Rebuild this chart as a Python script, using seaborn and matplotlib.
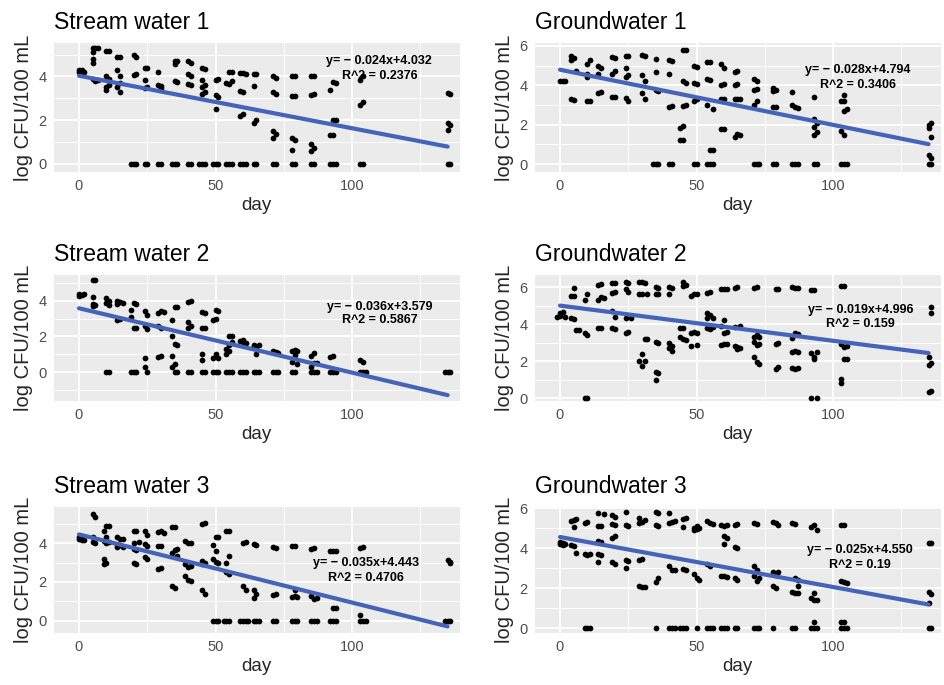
import matplotlib
matplotlib.use("Agg")
import matplotlib.pyplot as plt
from matplotlib.ticker import MultipleLocator
import pandas as pd
import seaborn as sns

# panel titles, fitted equations (slope, intercept) and R^2 labels
titles = ["Stream water 1", "Groundwater 1", "Stream water 2",
          "Groundwater 2", "Stream water 3", "Groundwater 3"]
slopes = [-0.024, -0.028, -0.036, -0.019, -0.035, -0.025]
intercepts = [4.032, 4.794, 3.579, 4.996, 4.443, 4.550]
eq_labels = ["y= \u2212 0.024x+4.032", "y= \u2212 0.028x+4.794", "y= \u2212 0.036x+3.579",
             "y= \u2212 0.019x+4.996", "y= \u2212 0.035x+4.443", "y= \u2212 0.025x+4.550"]
r2_labels = ["R^2 = 0.2376", "R^2 = 0.3406", "R^2 = 0.5867",
             "R^2 = 0.159", "R^2 = 0.4706", "R^2 = 0.19"]
first_day, last_day = 0, 135

sw1 = [(0, [4.3, 4.2]), (1, [4.3, 4.2]), (2, [4.2]),
       (5, [5.3, 5.1, 4.8, 4.6, 3.9]), (6, [5.3, 3.8]), (7, [5.3, 3.85]),
       (10, [5.15, 4.0, 3.5, 3.4]), (11, [5.15, 3.9, 3.6]),
       (14, [4.9, 4.3, 3.5]), (15, [4.9, 4.0, 3.3, 3.7]),
       (19, [0]), (20, [5.0, 4.05, 0]), (21, [4.9, 4.1, 0]),
       (24, [4.4, 3.85, 3.45, 0]), (25, [4.4, 3.5, 0]),
       (29, [4.2, 3.6, 0]), (30, [3.45, 3.55, 0]),
       (34, [0]), (35, [4.7, 4.55, 3.8, 0]), (36, [4.7, 3.75, 0]),
       (40, [4.7, 4.1, 3.65, 0]), (41, [4.6, 4.0, 3.6, 0]),
       (44, [0]), (45, [4.4, 3.85, 3.5, 3.2, 0]), (46, [4.35, 3.6, 3.3, 0]),
       (49, [0]), (50, [3.85, 3.15, 2.5, 0]), (51, [3.9, 3.05, 0]),
       (54, [3.7, 0]), (55, [4.2, 3.65, 0]), (56, [4.2, 3.8, 0]),
       (59, [4.15, 3.35, 2.2, 0]), (60, [4.15, 3.3, 2.3, 0]), (61, [4.1, 0]),
       (64, [4.1, 3.55, 1.85, 0]), (65, [4.1, 2.0, 0]),
       (71, [4.0, 3.3, 1.5, 1.2, 0]), (72, [3.95, 3.2, 1.35, 0]),
       (78, [4.0, 3.1, 1.2, 0.65, 0]), (79, [4.0, 3.1, 1.1, 0]),
       (85, [4.0, 3.15, 0.9, 0.6, 0]), (86, [4.0, 3.2, 0.75, 0]),
       (92, [3.4, 1.3, 0]), (93, [3.75, 1.3, 2.0, 0]), (94, [3.7, 2.0, 0]),
       (103, [3.85, 2.7, 0]), (104, [4.0, 2.85, 0]),
       (135, [3.25, 1.85, 1.55, 0]), (136, [3.2, 1.8, 0])]

gw1 = [(0, [4.2]), (1, [4.2]), (2, [4.2]),
       (4, [5.5, 5.3, 3.3]), (5, [5.4, 3.25]), (6, [4.75]),
       (10, [5.1, 4.4, 4.6, 3.2]), (11, [5.3, 3.2]),
       (14, [5.0, 4.6, 3.6]), (15, [4.9, 3.65]),
       (19, [5.45, 4.6, 3.4]), (20, [5.4, 4.75, 3.4]),
       (24, [5.5, 4.9, 4.4, 3.35]), (25, [5.5, 4.5, 3.2]),
       (30, [5.55, 4.5, 3.6]), (31, [5.5, 4.2, 3.3]),
       (34, [0]), (35, [5.35, 4.7, 3.75, 0]), (36, [3.7, 0]),
       (40, [5.3, 4.6, 2.9, 0]), (41, [5.25, 2.95, 0]),
       (44, [1.85, 1.2]), (45, [5.8, 4.2, 2.95, 1.95, 1.2]), (46, [5.8, 3.0, 4.1]),
       (49, [5.0, 4.1, 3.2, 0]), (50, [4.95, 4.05, 3.3, 0]),
       (54, [5.2, 4.3, 3.0, 0]), (55, [5.2, 4.25, 0.7, 0]), (56, [2.8, 0.7, 0]),
       (59, [5.1, 4.0, 3.3, 1.8]), (60, [4.9, 4.05, 3.3, 1.8]),
       (64, [4.7, 4.0, 3.3, 1.4]), (65, [4.75, 4.05, 3.3, 1.55]), (66, [3.3, 1.5]),
       (71, [4.3, 3.75, 3.0, 0]), (72, [4.2, 3.8, 3.2, 0]), (73, [0]),
       (78, [3.85, 3.7, 2.9, 0]), (79, [3.75, 2.9, 0]),
       (85, [3.65, 3.0, 0]), (86, [2.9, 0]), (87, [2.85, 0]),
       (93, [3.4, 2.3, 1.9, 1.5, 0]), (94, [2.1, 1.65, 0]),
       (103, [3.2, 1.7, 0]), (104, [3.5, 3.2, 2.7, 1.5, 0]), (105, [2.8, 0]),
       (135, [2.0, 1.85, 0.45, 0]), (136, [2.1, 1.4, 0.3, 0])]

sw2 = [(0, [4.35, 4.25]), (1, [4.3]), (2, [4.35]),
       (5, [5.15, 4.2, 3.8, 3.7]), (6, [5.15, 3.75]),
       (10, [4.15, 3.9, 0]), (11, [4.0, 3.75, 0]),
       (14, [4.0, 3.8, 2.95]), (15, [3.95, 3.0]), (16, [3.85]),
       (19, [3.5, 3.1, 0]), (20, [3.85, 2.5, 0]), (21, [3.8, 2.45, 0]),
       (24, [3.4, 2.6, 0.8, 0.3]), (25, [3.2, 2.4, 0]),
       (29, [3.3, 2.6, 0.85]), (30, [3.4, 2.5, 0.9]), (31, [3.35]),
       (34, [2.95, 2.0, 0.9, 0.3]), (35, [3.65, 1.6, 0.45, 0]), (36, [3.65, 1.5, 0]),
       (40, [3.95, 2.5, 2.8, 0]), (41, [4.0, 2.6, 0]),
       (45, [3.35, 2.45, 1.0, 0.7, 0]), (46, [3.3, 2.5, 0]),
       (49, [2.95, 0.8, 0]), (50, [3.5, 3.0, 1.0, 0]), (51, [3.4, 0.8, 0]),
       (54, [1.3, 1.0, 0]), (55, [2.0, 1.5, 1.2, 0]), (56, [2.0, 1.7, 0]),
       (59, [1.75, 0]), (60, [1.8, 1.7, 0]), (61, [1.65, 0]),
       (64, [1.55, 1.45, 0]), (65, [1.0, 1.4, 0]), (66, [1.5, 0]),
       (71, [1.2, 0]), (72, [1.15, 0]), (73, [1.1, 0]),
       (78, [1.2, 0.6, 0]), (79, [1.25, 0.95, 0]), (80, [1.2, 0.45]),
       (85, [0.9, 0.3, 0]), (86, [1.1, 0.5, 0]), (87, [0.5, 0]),
       (92, [0.85, 0]), (93, [0.9, 0]), (94, [0]),
       (103, [0.7, 0]), (104, [0.55, 0]), (105, [0]),
       (134, [0]), (135, [0]), (136, [0])]

gw2 = [(-1, [4.4]), (0, [4.6, 4.45]), (1, [4.65]), (2, [4.4]),
       (4, [5.5, 4.3]), (5, [5.95, 5.5, 4.25]), (6, [3.7]), (7, [3.7]),
       (9, [5.3, 3.5, 0]), (10, [5.65, 3.4, 0]),
       (14, [6.1, 5.3, 3.8]), (15, [6.15, 5.45, 3.8]), (16, [5.4]),
       (19, [6.2, 5.7, 4.7, 3.8]), (20, [6.2, 5.75, 4.4, 3.75]),
       (24, [6.25, 5.9, 4.35, 3.5]), (25, [6.2, 5.75, 3.55]), (26, [4.3]),
       (29, [6.25, 5.6, 2.0]), (30, [6.25, 5.65, 2.4, 1.75]), (31, [6.2, 3.2, 2.0]), (32, [5.6, 3.2]),
       (35, [6.0, 5.6, 3.05, 1.4, 1.0]), (36, [5.95, 5.6, 3.0, 1.35]),
       (40, [6.0, 5.65, 2.95, 2.7]), (41, [5.95, 2.8, 2.55]),
       (44, [3.8, 3.3]), (45, [6.25, 6.05, 3.8, 3.2]), (46, [6.1, 3.15]),
       (48, [5.5, 3.5, 2.8]), (49, [5.6, 3.55]), (50, [5.6, 3.5, 2.85]),
       (54, [5.7, 4.6, 4.35, 3.8]), (55, [5.75, 4.5, 3.75]), (56, [4.35, 3.85]),
       (59, [5.9, 3.9, 2.85]), (60, [5.9, 4.2, 3.5, 2.9]), (61, [5.9, 3.55, 2.9]),
       (64, [5.95, 3.85, 2.8]), (65, [6.0, 2.75, 2.65]), (66, [3.9, 2.7]),
       (71, [5.95, 3.3, 3.05, 2.2]), (72, [6.0, 3.4, 2.85, 1.95]), (73, [3.3, 2.9, 1.85]),
       (79, [5.9, 2.9, 1.55]), (80, [5.9, 3.0, 1.7]),
       (85, [6.0, 3.25, 2.5, 1.6]), (86, [5.95, 3.5, 2.55, 1.55]), (87, [5.95, 3.45, 2.5, 1.6]),
       (92, [5.85, 2.45, 0]), (93, [5.85, 2.2, 2.1]), (94, [2.5, 0]),
       (103, [6.05, 2.9, 1.05, 0.8]), (104, [6.05, 2.75, 2.1]), (105, [2.8, 2.1]),
       (135, [2.2, 1.8, 0.3]), (136, [4.9, 4.6, 1.9, 0.4])]

sw3 = [(0, [4.3, 4.2]), (1, [4.25, 4.15]), (2, [4.15]),
       (5, [5.5, 4.3, 4.05]), (6, [5.35, 4.0]),
       (9, [4.6, 4.1, 3.2, 2.9]), (10, [4.85, 4.3, 4.0, 2.95]), (11, [4.85, 4.05]),
       (14, [4.3, 3.9, 3.8]), (15, [4.2, 3.9]), (16, [4.2, 3.8]),
       (20, [4.6, 4.0, 3.7, 3.0]), (21, [4.6, 3.65, 2.9]), (22, [4.05]),
       (24, [4.6, 3.95, 3.3]), (25, [4.4, 3.85, 3.2]),
       (29, [4.55, 3.85, 2.65]), (30, [4.6, 3.85, 2.7]), (31, [4.5]),
       (34, [4.8, 3.5, 1.8]), (35, [4.8, 3.65, 1.7]), (36, [3.35, 3.7]),
       (39, [4.1, 2.3, 2.9]), (40, [4.0, 2.75, 2.1]), (41, [4.0, 2.8, 2.05]),
       (45, [5.0, 3.1, 1.6, 2.9]), (46, [5.05, 2.95, 1.4]),
       (49, [3.9, 3.2, 0]), (50, [4.3, 3.6, 3.05, 0]), (51, [4.3, 3.0, 0]),
       (53, [0]), (54, [4.6, 3.0, 2.5, 0]), (55, [4.6, 3.35, 2.4, 0]),
       (59, [0]), (60, [4.0, 1.8, 0]), (61, [4.05, 1.6, 0]), (62, [0]),
       (64, [3.95, 1.6, 1.2, 0]), (65, [3.9, 1.4, 0]), (66, [0]),
       (71, [3.8, 1.35, 0]), (72, [3.75, 1.4, 0]),
       (78, [3.85, 1.25, 0]), (79, [3.85, 1.6, 1.3, 0]), (80, [1.25, 0]),
       (85, [3.7, 1.3, 0]), (86, [3.75, 1.15, 0]), (87, [1.2, 0]),
       (92, [3.6, 0]), (93, [3.6, 0.65, 0]), (94, [3.6, 0.65, 0]),
       (103, [3.75, 0.3, 0]), (104, [3.8, 0]), (105, [0]),
       (134, [0]), (135, [3.15, 0]), (136, [3.05, 2.95, 0])]

gw3 = [(0, [4.3, 4.2]), (1, [4.25, 4.15]), (2, [4.2]),
       (4, [5.35, 4.15]), (5, [5.4, 5.05, 4.1]), (6, [5.45, 3.75]),
       (9, [5.25, 3.7, 0]), (10, [5.3, 3.65, 0]), (11, [3.7, 0]),
       (14, [5.75, 5.1, 4.35, 3.7, 3.3]), (15, [5.1, 4.3, 3.65]), (16, [5.7]),
       (19, [5.65, 5.2, 4.5, 3.3]), (20, [5.55, 5.15, 4.6, 3.2]),
       (24, [5.8, 5.15, 3.0, 3.4]), (25, [5.1, 3.35]),
       (29, [5.5, 5.25, 3.4, 2.1]), (30, [5.3, 3.45, 2.05]), (31, [5.4, 2.05]),
       (35, [5.8, 5.15, 2.3, 0]), (36, [5.75, 5.1, 2.5]),
       (40, [5.75, 5.25, 3.1, 0]), (41, [5.3, 2.9, 0]), (42, [5.35, 2.9, 0]),
       (44, [0]), (45, [5.45, 5.05, 2.95, 0]), (46, [5.5, 2.9, 0]),
       (49, [5.0, 4.9, 2.7]), (50, [5.1, 4.95, 2.5, 0]), (51, [5.0, 2.4]),
       (54, [5.35, 3.2, 0]), (55, [5.25, 3.1, 0]), (56, [5.2, 0]),
       (59, [5.15, 2.6, 0]), (60, [5.1, 4.6, 4.2, 2.6, 0]), (61, [5.15, 4.5, 2.55, 0]),
       (64, [5.15, 4.05, 2.5, 0]), (65, [5.2, 4.0, 2.4, 0]),
       (71, [5.25, 3.1, 2.6, 0]), (72, [5.2, 2.9, 2.35, 0]), (73, [2.5, 0]),
       (78, [5.3, 2.8, 2.1, 0]), (79, [5.25, 2.65, 2.0]), (80, [5.15, 2.8]),
       (85, [5.25, 1.8, 0]), (86, [5.2, 2.5, 1.75, 0]), (87, [2.4, 2.1, 1.75]),
       (92, [5.05, 1.5, 0]), (93, [5.15, 1.75, 1.4, 0.3, 0]), (94, [4.9, 1.4, 0]),
       (103, [5.15, 2.35, 0.3, 0]), (104, [5.15, 2.3, 0.3, 0]), (105, [2.25, 0]),
       (135, [4.25, 1.8, 1.25, 0]), (136, [4.25, 1.7, 0])]

panels = [sw1, gw1, sw2, gw2, sw3, gw3]

# label positions and axis limits
eq_pos = [(110, 4.7, 4.0), (109, 4.8, 4.0), (110, 3.65, 2.95),
          (110, 4.75, 3.98), (105, 2.97, 2.2), (110, 3.9, 3.15)]
ylims = [(-0.37, 5.53), (-0.4, 6.15), (-1.61, 5.44),
         (-0.16, 6.65), (-0.62, 5.85), (-0.25, 6.05)]
yticks = [[0, 2, 4], [0, 2, 4, 6], [0, 2, 4], [0, 2, 4, 6], [0, 2, 4], [0, 2, 4, 6]]

sns.set_theme(style="darkgrid", rc={"axes.facecolor": "#EBEBEB",
                                    "grid.color": "white",
                                    "axes.edgecolor": "#EBEBEB"})
plt.rcParams["font.family"] = ["Liberation Sans", "DejaVu Sans"]

fig = plt.figure(figsize=(9.45, 6.85), dpi=100)
W, H = 945.0, 685.0
col_left = [53.6, 534.6]
rows = [(43, 172), (275, 401), (507, 633)]
ax_w = 406

for i, data in enumerate(panels):
    r, c = divmod(i, 2)
    top, bot = rows[r]
    ax = fig.add_axes([col_left[c] / W, 1 - bot / H, ax_w / W, (bot - top) / H])

    df = pd.DataFrame([(d, v) for d, vals in data for v in vals], columns=["day", "log"])
    sns.scatterplot(data=df, x="day", y="log", ax=ax, color="black", s=17,
                    linewidth=0, zorder=3)

    fit = pd.DataFrame({"day": [first_day, last_day]})
    fit["log"] = intercepts[i] + slopes[i] * fit["day"]
    sns.lineplot(data=fit, x="day", y="log", ax=ax, color="#4563B9",
                 linewidth=3.0, zorder=4)

    ex, ey1, ey2 = eq_pos[i]
    ax.text(ex, ey1, eq_labels[i], ha="center", va="center", fontsize=9,
            fontweight="bold", color="black", zorder=5)
    ax.text(ex, ey2, r2_labels[i], ha="center", va="center", fontsize=9,
            fontweight="bold", color="black", zorder=5)

    ax.set_xlim(-9.3, 139.4)
    ax.set_ylim(*ylims[i])
    ax.set_xticks([0, 50, 100])
    ax.set_yticks(yticks[i])
    ax.xaxis.set_minor_locator(MultipleLocator(25))
    ax.yaxis.set_minor_locator(MultipleLocator(1))
    ax.grid(which="major", color="white", linewidth=1.3)
    ax.grid(which="minor", color="white", linewidth=0.65)
    for s in ax.spines.values():
        s.set_visible(False)
    ax.tick_params(which="major", length=3, width=1.1, color="#333333",
                   labelcolor="#4D4D4D", labelsize=10.5, pad=2)
    ax.tick_params(which="minor", length=0)

    ax.set_title(titles[i], loc="left", fontsize=16.5, pad=10, color="black")
    ax.set_xlabel("day", fontsize=13.5, labelpad=3)
    ax.set_ylabel("log CFU/100 mL", fontsize=14.5, labelpad=4)

fig.savefig("out.png", dpi=100)
